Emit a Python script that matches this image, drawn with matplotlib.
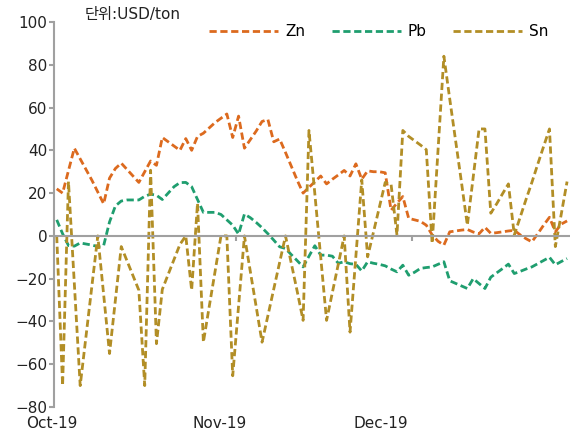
import numpy as np
import pandas as pd
import matplotlib
matplotlib.use('Agg')
import matplotlib.pyplot as plt
import matplotlib.dates as mdates

plt.rcParams['font.family'] = ['DejaVu Sans', 'Noto Sans CJK KR']
plt.rcParams['axes.unicode_minus'] = True

# daily spread series, 1 Oct - 27 Dec 2019 (USD/ton)
dates = pd.date_range('2019-10-01', '2019-12-27', freq='D')

zn = [22, 20, 30.5, 41, 36, 31, 26, 20.5, 15, 27,
      31.5, 34, 31, 28, 25, 30, 35, 33, 46, 44,
      42, 40, 45.5, 40, 46.5, 48, 50.5, 53, 55, 57,
      46, 56, 41, 45, 49, 53.5, 54.4, 44, 45.3, 39,
      32.5, 26, 20, 22.7, 25.3, 28, 24.3, 26.5, 28.5, 30.6,
      28, 33.7, 26.5, 30.4, 30, 30, 29.5, 12, 15.3, 18.4,
      8.2, 7.5, 6.8, 5, 0.5, -2.5, -4.3, 1.9, 2.3, 2.7,
      3, 1.8, 1, 4, 1.2, 1.5, 1.9, 2.3, 2.6, 0.5,
      -1.3, -2.8, 1, 5, 8.7, 1.9, 5.5, 7]

pb = [7.5, 1, -4.5, -4.8, -3.3, -3.8, -4.3, -5, -4.5, 6.5,
      14, 16.3, 16.8, 16.8, 16.8, 18.5, 19.5, 19, 17, 20,
      23, 24.9, 25, 23, 17, 11, 11, 11, 10, 7.5,
      5, 0.8, 10.2, 8.5, 6.3, 3.8, 1, -2, -5.1, -5.9,
      -8.8, -11.6, -14.5, -9.5, -4.6, -9, -9, -9.5, -12.8, -12.1,
      -13, -13.3, -16.4, -12.1, -12.8, -13.3, -14, -15.5, -16.8, -13.7,
      -18.4, -17, -15.2, -14.8, -14.5, -13.3, -12.1, -21, -22.2, -23.4,
      -24.6, -20, -22.3, -24.6, -19.3, -17.3, -15.3, -13.2, -17.6, -16.6,
      -15.5, -14.5, -13, -11.5, -10, -13.5, -12, -10.6]

sn = [0, -70, 25.4, -22.3, -70, -46.7, -23.3, 0, -27.5, -55,
      -30, -5, -11.8, -18.6, -25.4, -70, 30.7, -50.4, -25, -18,
      -11, -4, 0, -25.4, 15.3, -49.7, -33, -16.5, 0, 0,
      -65.4, -32.7, 0, -16.6, -33.1, -49.7, -37.3, -24.8, -12.4, 0,
      -13, -26, -39.5, 49.3, 19.7, -9.9, -39.5, -26.3, -13.2, 0,
      -45, -9.4, 26.2, -9.8, 1.8, 13.4, 25, 24, 0.4, 49.3,
      46.5, 44.5, 42.5, 40.3, -3.5, 40, 84, 64, 44.5, 25,
      5, 27.5, 50, 50, 10.6, 15, 19.7, 24.3, 0.4, 8.7,
      17, 25, 33.5, 41.8, 50, -5, 10, 25.4]

series_names = ['Zn', 'Pb', 'Sn']
month_labels = ['Oct-19', 'Nov-19', 'Dec-19']

colors = ['#DC6A1E', '#1F9E6F', '#B28E26']
grey = '#A0A0A0'

# each day's point sits in the middle of its slot, like an Excel date axis
x = (dates + pd.Timedelta(hours=12)).to_numpy()

fig = plt.figure(figsize=(5.7, 4.42), dpi=100)
ax = fig.add_axes([53.8 / 570, 35 / 442, (570 - 53.8) / 570, 385 / 442])

for vals, name, c in zip([zn, pb, sn], series_names, colors):
    ax.plot(x, vals, color=c, linewidth=2.0, linestyle=(0, (2.6, 1.3)),
            label=name)

ax.set_xlim(pd.Timestamp('2019-10-01'), pd.Timestamp('2019-12-28'))
ax.set_ylim(-80, 100)
ax.set_yticks(np.arange(-80, 101, 20))

# spines
for s in ['top', 'right']:
    ax.spines[s].set_visible(False)
ax.spines['left'].set_color(grey)
ax.spines['left'].set_linewidth(1.5)
ax.spines['bottom'].set_position(('data', 0))
ax.spines['bottom'].set_color(grey)
ax.spines['bottom'].set_linewidth(1.5)

ax.tick_params(axis='y', length=3.5, width=1.5, color=grey, pad=1,
               labelsize=11, labelcolor='#222222')
# month boundary tick marks on the zero line, labels drawn separately
ax.set_xticks([pd.Timestamp('2019-11-01'), pd.Timestamp('2019-12-01')])
ax.set_xticklabels([])
ax.tick_params(axis='x', length=3.5, width=1.5, color=grey, direction='out')

label_days = [-0.3, 28.2, 55.7]
start = pd.Timestamp('2019-10-01')
for lab, d in zip(month_labels, label_days):
    ax.text(mdates.date2num(start + pd.Timedelta(days=d)), -0.044, lab,
            transform=ax.get_xaxis_transform(), ha='center', va='center',
            fontsize=11, color='#222222', clip_on=False)

ax.legend(loc='center', bbox_to_anchor=(378.8 / 570, 1 - 32 / 442),
          bbox_transform=fig.transFigure, ncol=3, frameon=False,
          fontsize=11, handlelength=4.5, handletextpad=0.45,
          columnspacing=1.75)

fig.text(85 / 570, 1 - 15 / 442, '단위:USD/ton', ha='left', va='center',
         fontsize=11, color='#222222')

fig.savefig('out.png', dpi=100)
